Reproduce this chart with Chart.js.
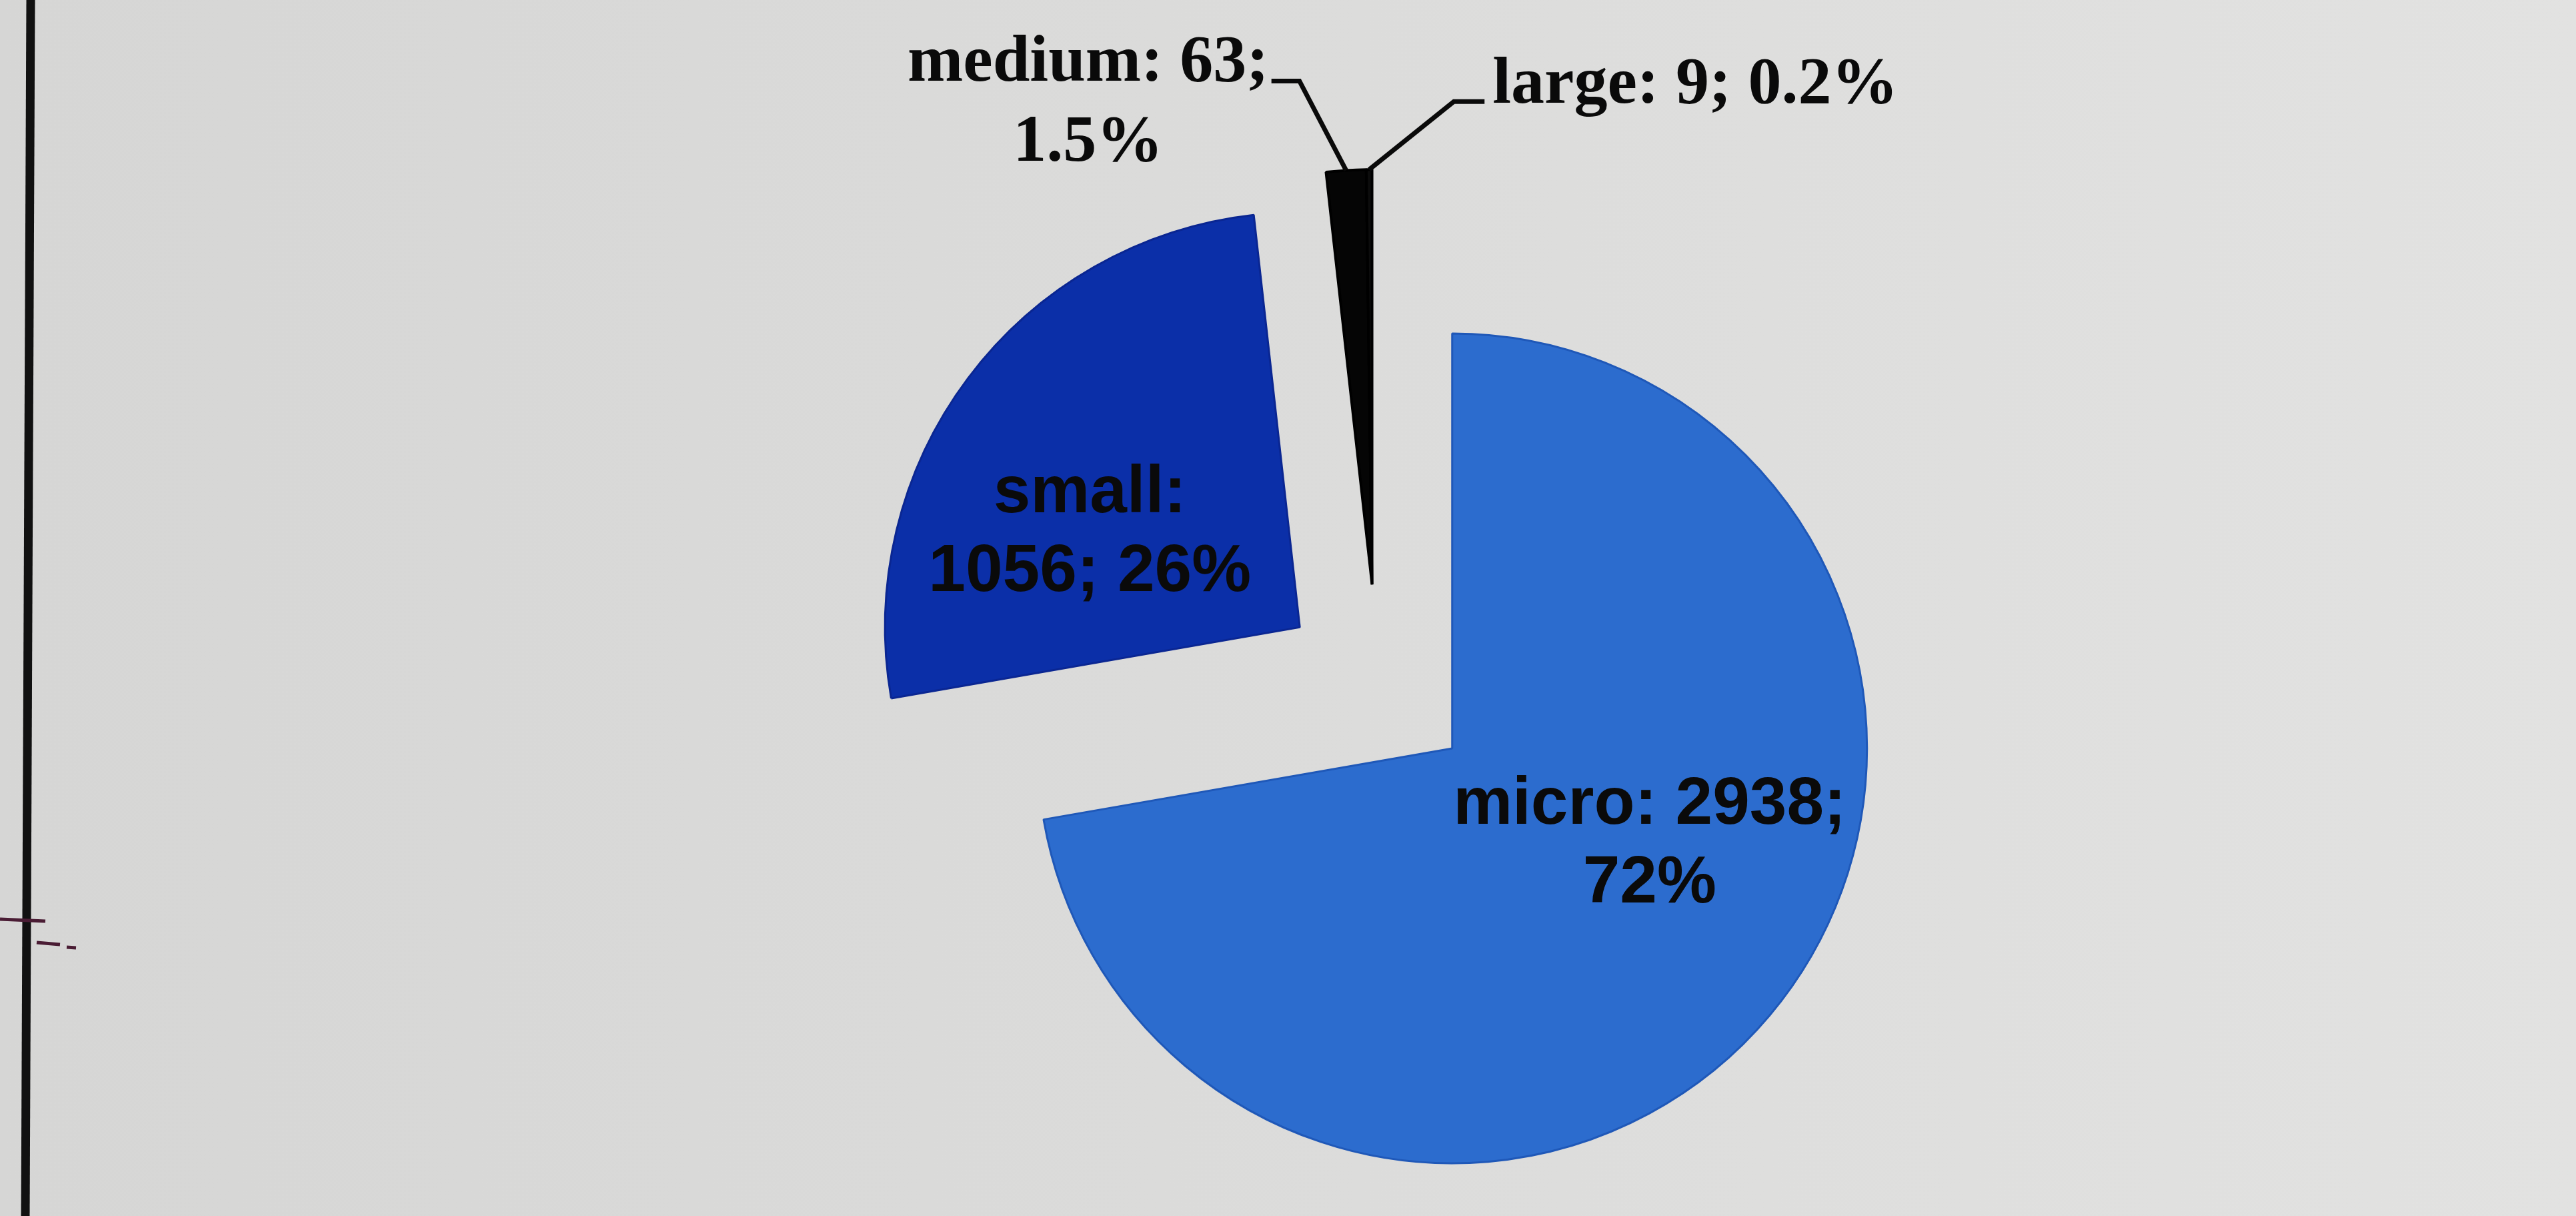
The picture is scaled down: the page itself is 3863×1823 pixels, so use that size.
<!DOCTYPE html>
<html><head><meta charset="utf-8">
<script src="https://cdn.jsdelivr.net/npm/chart.js@4.4.1/dist/chart.umd.min.js"></script>
<style>
html,body{margin:0;padding:0;overflow:hidden;}
body{width:3863px;height:1823px;background:linear-gradient(90deg,#d6d6d5 0%,#dbdbda 45%,#e2e2e1 100%);}
canvas{display:block;}
</style></head><body>
<canvas id="c" width="3863" height="1823"></canvas>
<script>
// ---- data ----
const categories = ['micro', 'small', 'medium', 'large'];
const counts = [2938, 1056, 63, 9];
const percentLabels = ['72%', '26%', '1.5%', '0.2%'];

// ---- styles ----
const sliceColors = ['#2c6cce', '#0b2fa8', '#050505', '#0c0c0c'];
const sliceBorders = ['#1f58b8', '#0a2692', '#000000', '#000000'];
const sliceBorderWidths = [3, 3, 4, 4];
const explodeGroup = [0, 1, 2, 2];        // slices in one group move together
const explodePx = [146, 146, 152, 152];   // displacement of each slice along its group's bisector
const sansFont = 'bold 100px "Liberation Sans", Arial, sans-serif';
const serifFont = 'bold 100px "Liberation Serif", "DejaVu Serif", serif';
const labelStyle = [
  {kind: 'inside', font: sansFont, dx: 296, dy: 113, lh: 118, brk: 'value'},
  {kind: 'inside', font: sansFont, dx: -315, dy: -172, lh: 118, brk: 'name'},
  {kind: 'leader', font: serifFont, side: 'left', elbow: [-70, -134], end: [-112, -134], lh: 120, brk: 'value'},
  {kind: 'leader', font: serifFont, side: 'right', elbow: [127, -102], end: [173, -102], lh: 120, brk: 'none'}
];

function labelLines(i) {
  const n = categories[i], v = counts[i], p = percentLabels[i];
  const b = labelStyle[i].brk;
  if (b === 'value') return [n + ': ' + v + ';', p];
  if (b === 'name') return [n + ':', v + '; ' + p];
  return [n + ': ' + v + '; ' + p];
}

function arcGeom(arcs, i) {
  const arc = arcs[i];
  const p = arc.getProps(['x', 'y', 'startAngle', 'endAngle', 'outerRadius']);
  let s = Infinity, e = -Infinity;
  arcs.forEach((a, j) => {
    if (explodeGroup[j] === explodeGroup[i]) {
      s = Math.min(s, a.startAngle);
      e = Math.max(e, a.endAngle);
    }
  });
  const gh = (s + e) / 2;
  const h = (p.startAngle + p.endAngle) / 2;
  const t = explodePx[i];
  const dx = Math.cos(gh) * t, dy = Math.sin(gh) * t;
  const ax = p.x + dx, ay = p.y + dy;
  return {ax, ay, h, r: p.outerRadius, dx, dy,
          tx: ax + Math.cos(h) * p.outerRadius, ty: ay + Math.sin(h) * p.outerRadius};
}

const framePlugin = {
  id: 'frame',
  beforeDraw(chart) {
    const ctx = chart.ctx;
    ctx.save();
    ctx.strokeStyle = '#111111';
    ctx.lineWidth = 13;
    ctx.beginPath();
    ctx.moveTo(46, 0);
    ctx.lineTo(38, chart.height);
    ctx.stroke();
    ctx.lineWidth = 5;
    ctx.strokeStyle = '#4a1c34';
    ctx.beginPath(); ctx.moveTo(0, 1378); ctx.lineTo(68, 1381); ctx.stroke();
    ctx.beginPath(); ctx.moveTo(55, 1413); ctx.lineTo(90, 1416); ctx.stroke();
    ctx.beginPath(); ctx.moveTo(100, 1420); ctx.lineTo(114, 1421); ctx.stroke();
    ctx.restore();
  }
};

// draws each arc element (via the library's own ArcElement.draw) shifted outwards
const explodePlugin = {
  id: 'explode',
  beforeDatasetDraw(chart, args) {
    const ctx = chart.ctx;
    const arcs = args.meta.data;
    arcs.forEach((arc, i) => {
      const g = arcGeom(arcs, i);
      ctx.save();
      ctx.translate(g.dx, g.dy);
      arc.draw(ctx, chart.chartArea);
      ctx.restore();
    });
    return false;
  }
};

const labelPlugin = {
  id: 'sliceLabels',
  afterDatasetsDraw(chart) {
    const ctx = chart.ctx;
    const arcs = chart.getDatasetMeta(0).data;
    ctx.save();
    ctx.fillStyle = '#0a0a0a';
    ctx.strokeStyle = '#0a0a0a';
    arcs.forEach((arc, i) => {
      const s = labelStyle[i];
      const g = arcGeom(arcs, i);
      const lines = labelLines(i);
      ctx.font = s.font;
      ctx.textBaseline = 'alphabetic';
      if (s.kind === 'inside') {
        ctx.textAlign = 'center';
        lines.forEach((ln, k) => ctx.fillText(ln, g.ax + s.dx, g.ay + s.dy + k * s.lh));
      } else {
        const ex = g.tx + s.elbow[0], ey = g.ty + s.elbow[1];
        const nx = g.tx + s.end[0], ny = g.ty + s.end[1];
        ctx.lineWidth = 7;
        ctx.lineJoin = 'miter';
        ctx.beginPath();
        ctx.moveTo(g.tx, g.ty);
        ctx.lineTo(ex, ey);
        ctx.lineTo(nx, ny);
        ctx.stroke();
        if (s.side === 'left') {
          const w0 = ctx.measureText(lines[0]).width;
          const right = nx - 4;
          const cx = right - w0 / 2;
          ctx.textAlign = 'center';
          lines.forEach((ln, k) => ctx.fillText(ln, cx, ny + k * s.lh));
        } else {
          ctx.textAlign = 'left';
          lines.forEach((ln, k) => ctx.fillText(ln, nx + 12, ny + 2 + k * s.lh));
        }
      }
    });
    ctx.restore();
  }
};

new Chart(document.getElementById('c'), {
  type: 'pie',
  data: {
    labels: categories,
    datasets: [{
      data: counts,
      backgroundColor: sliceColors,
      borderColor: sliceBorders,
      borderWidth: sliceBorderWidths,
      radius: 622,
      offset: 0
    }]
  },
  options: {
    responsive: false,
    devicePixelRatio: 1,
    animation: false,
    events: [],
    layout: {padding: {left: 269, right: 0, top: 233, bottom: 0}},
    plugins: {legend: {display: false}, tooltip: {enabled: false}}
  },
  plugins: [framePlugin, explodePlugin, labelPlugin]
});
</script>
</body></html>
